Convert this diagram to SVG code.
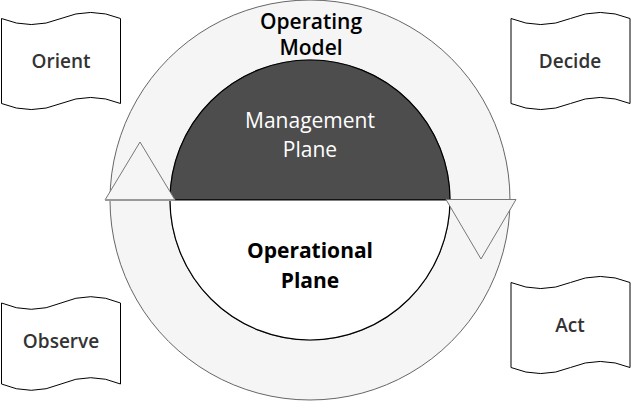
<svg xmlns="http://www.w3.org/2000/svg" width="631" height="401" viewBox="0 0 631 401">
<style>
.doc{fill:#ffffff;stroke:#000000;stroke-width:1}
.lbl{font-family:"Open Sans","DejaVu Sans",sans-serif;font-size:19px;font-weight:600;fill:#333333;text-anchor:middle}
.big{font-family:"Open Sans","DejaVu Sans",sans-serif;font-size:21px;text-anchor:middle}
.tri{fill:#f5f5f5;stroke:#777777;stroke-width:1}
</style>
<rect x="0" y="0" width="631" height="401" fill="#ffffff"/>
<g id="operating-model">
<path d="M310,0 A200,200 0 1,1 309.99,0 Z M310,60 A140,140 0 1,0 310.01,60 Z" fill="#f5f5f5" fill-rule="evenodd" stroke="#666666" stroke-width="1"/>
<text class="big" x="311" y="29" fill="#000000" font-weight="600">Operating</text>
<text class="big" x="311" y="55" fill="#000000" font-weight="600">Model</text>
</g>
<g id="management-plane">
<path d="M170,200 A140,140 0 0,1 450,200 Z" fill="#4d4d4d" stroke="#000000" stroke-width="1.2"/>
<text class="big" x="310" y="128" fill="#ffffff" font-size="22" font-weight="500">Management</text>
<text class="big" x="310" y="157" fill="#ffffff" font-size="22" font-weight="500">Plane</text>
</g>
<g id="operational-plane">
<path d="M170,200 A140,140 0 0,0 450,200 Z" fill="#ffffff" stroke="#000000" stroke-width="1.2"/>
<text class="big" x="310" y="258" fill="#000000" font-weight="bold">Operational</text>
<text class="big" x="310" y="288" fill="#000000" font-weight="bold">Plane</text>
</g>
<g id="connectors">
<g id="arrow-up">
<path class="tri" d="M105,200 L140,142 L175,200 Z"/>
<line x1="105" y1="200" x2="175" y2="200" stroke="#999999" stroke-width="2"/>
</g>
<g id="arrow-down">
<path class="tri" d="M446,199.5 L516,199.5 L481,259 Z"/>
</g>
</g>
<g id="orient">
<path class="doc" d="M1.5,18.5 Q31.25,30.6 61,18.5 Q90.75,6.4 120.5,18.5 L120.5,103.5 Q90.75,91.4 61,103.5 Q31.25,115.6 1.5,103.5 Z"/>
<text class="lbl" x="61" y="68">Orient</text>
</g>
<g id="decide">
<path class="doc" d="M511,18.5 Q540.75,30.6 570.5,18.5 Q600.25,6.4 630,18.5 L630,103.5 Q600.25,91.4 570.5,103.5 Q540.75,115.6 511,103.5 Z"/>
<text class="lbl" x="570" y="68">Decide</text>
</g>
<g id="observe">
<path class="doc" d="M1.5,303 Q31.25,315.6 61,303 Q90.75,290.4 120.5,303 L120.5,384 Q90.75,371.4 61,384 Q31.25,396.6 1.5,384 Z"/>
<text class="lbl" x="61" y="348">Observe</text>
</g>
<g id="act">
<path class="doc" d="M511,282.5 Q540.75,294.6 570.5,282.5 Q600.25,270.4 630,282.5 L630,367.5 Q600.25,355.4 570.5,367.5 Q540.75,379.6 511,367.5 Z"/>
<text class="lbl" x="570" y="332">Act</text>
</g>
</svg>
